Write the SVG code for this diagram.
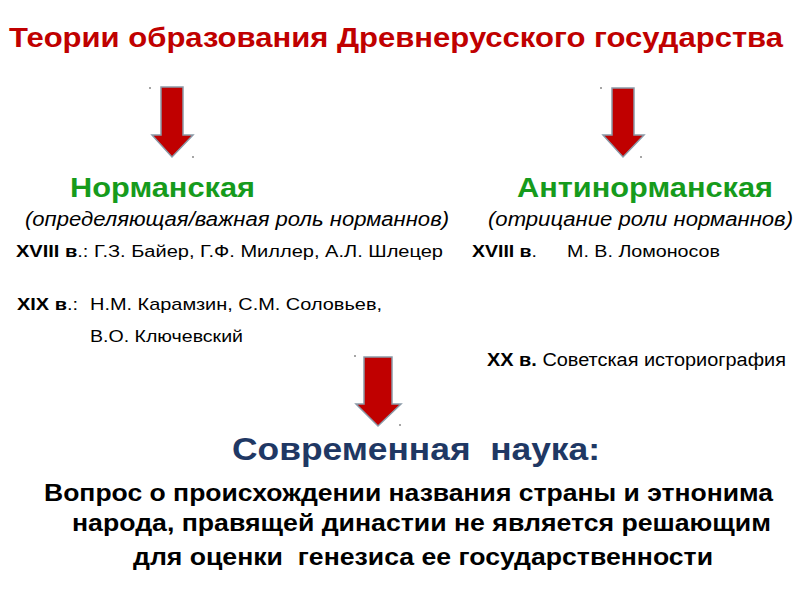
<svg xmlns="http://www.w3.org/2000/svg" width="800" height="600" viewBox="0 0 800 600">
<style>
text{font-family:"Liberation Sans",Arial,sans-serif;fill:#000}
.title{font-size:28px;font-weight:bold;fill:#c00000}
.head{font-size:28px;font-weight:bold;fill:#169b1c}
.it{font-size:20px;font-style:italic}
.n{font-size:16px}
.m{font-size:17px}
.l{font-size:18px}
.b{font-weight:bold}
.sci{font-size:32px;font-weight:bold;fill:#1f3864}
.big{font-size:24px;font-weight:bold}
.arrow{fill:#c00000;stroke:#8a9aa8;stroke-width:1.5}
.dot{fill:#888}
</style>
<rect width="800" height="600" fill="#fff"/>
<g id="title"><text class="title" x="9" y="47" textLength="774" lengthAdjust="spacingAndGlyphs">Теории образования Древнерусского государства</text></g>
<g id="connectors">
<path class="arrow" d="M161,87 H183 V135 H193 L172,157 L152,135 H161 Z"/>
<path class="arrow" d="M612,88 H634 V135 H644 L623,157 L603,135 H612 Z"/>
<path class="arrow" d="M364,357 H392 V404 H401 L378,426 L356,404 H364 Z"/>
<circle class="dot" cx="150" cy="88" r="1"/><circle class="dot" cx="193" cy="157" r="1"/>
<circle class="dot" cx="601" cy="88" r="1"/><circle class="dot" cx="641" cy="157" r="1"/>
<circle class="dot" cx="355" cy="356" r="1"/><circle class="dot" cx="400" cy="425" r="1"/>
</g>
<g id="norman">
<text class="head" x="70" y="197" textLength="185" lengthAdjust="spacingAndGlyphs">Норманская</text>
<text class="it" x="25" y="226" textLength="424" lengthAdjust="spacingAndGlyphs">(определяющая/важная роль норманнов)</text>
<text class="n" x="16" y="257" textLength="427" lengthAdjust="spacingAndGlyphs"><tspan class="b">XVIII в</tspan>.: Г.З. Байер, Г.Ф. Миллер, А.Л. Шлецер</text>
<text class="m" x="17" y="310" textLength="61" lengthAdjust="spacingAndGlyphs"><tspan class="b">XIX в</tspan>.:</text>
<text class="m" x="90" y="310" textLength="292" lengthAdjust="spacingAndGlyphs">Н.М. Карамзин, С.М. Соловьев,</text>
<text class="m" x="90" y="342" textLength="153" lengthAdjust="spacingAndGlyphs">В.О. Ключевский</text>
</g>
<g id="antinorman">
<text class="head" x="517" y="197" textLength="256" lengthAdjust="spacingAndGlyphs">Антинорманская</text>
<text class="it" x="488" y="226" textLength="305" lengthAdjust="spacingAndGlyphs">(отрицание роли норманнов)</text>
<text class="n" x="472" y="257" textLength="65" lengthAdjust="spacingAndGlyphs"><tspan class="b">XVIII в</tspan>.</text>
<text class="n" x="567" y="257" textLength="153" lengthAdjust="spacingAndGlyphs">М. В. Ломоносов</text>
<text class="l" x="487" y="366" textLength="299" lengthAdjust="spacingAndGlyphs"><tspan class="b">XX в.</tspan> Советская историография</text>
</g>
<g id="science">
<text class="sci" x="232" y="460" textLength="368" lengthAdjust="spacingAndGlyphs">Современная&#160; наука:</text>
<text class="big" x="44" y="501" textLength="729" lengthAdjust="spacingAndGlyphs">Вопрос о происхождении названия страны и этнонима</text>
<text class="big" x="72" y="531" textLength="699" lengthAdjust="spacingAndGlyphs">народа, правящей династии не является решающим</text>
<text class="big" x="133" y="565" textLength="580" lengthAdjust="spacingAndGlyphs">для оценки&#160; генезиса ее государственности</text>
</g>
</svg>
